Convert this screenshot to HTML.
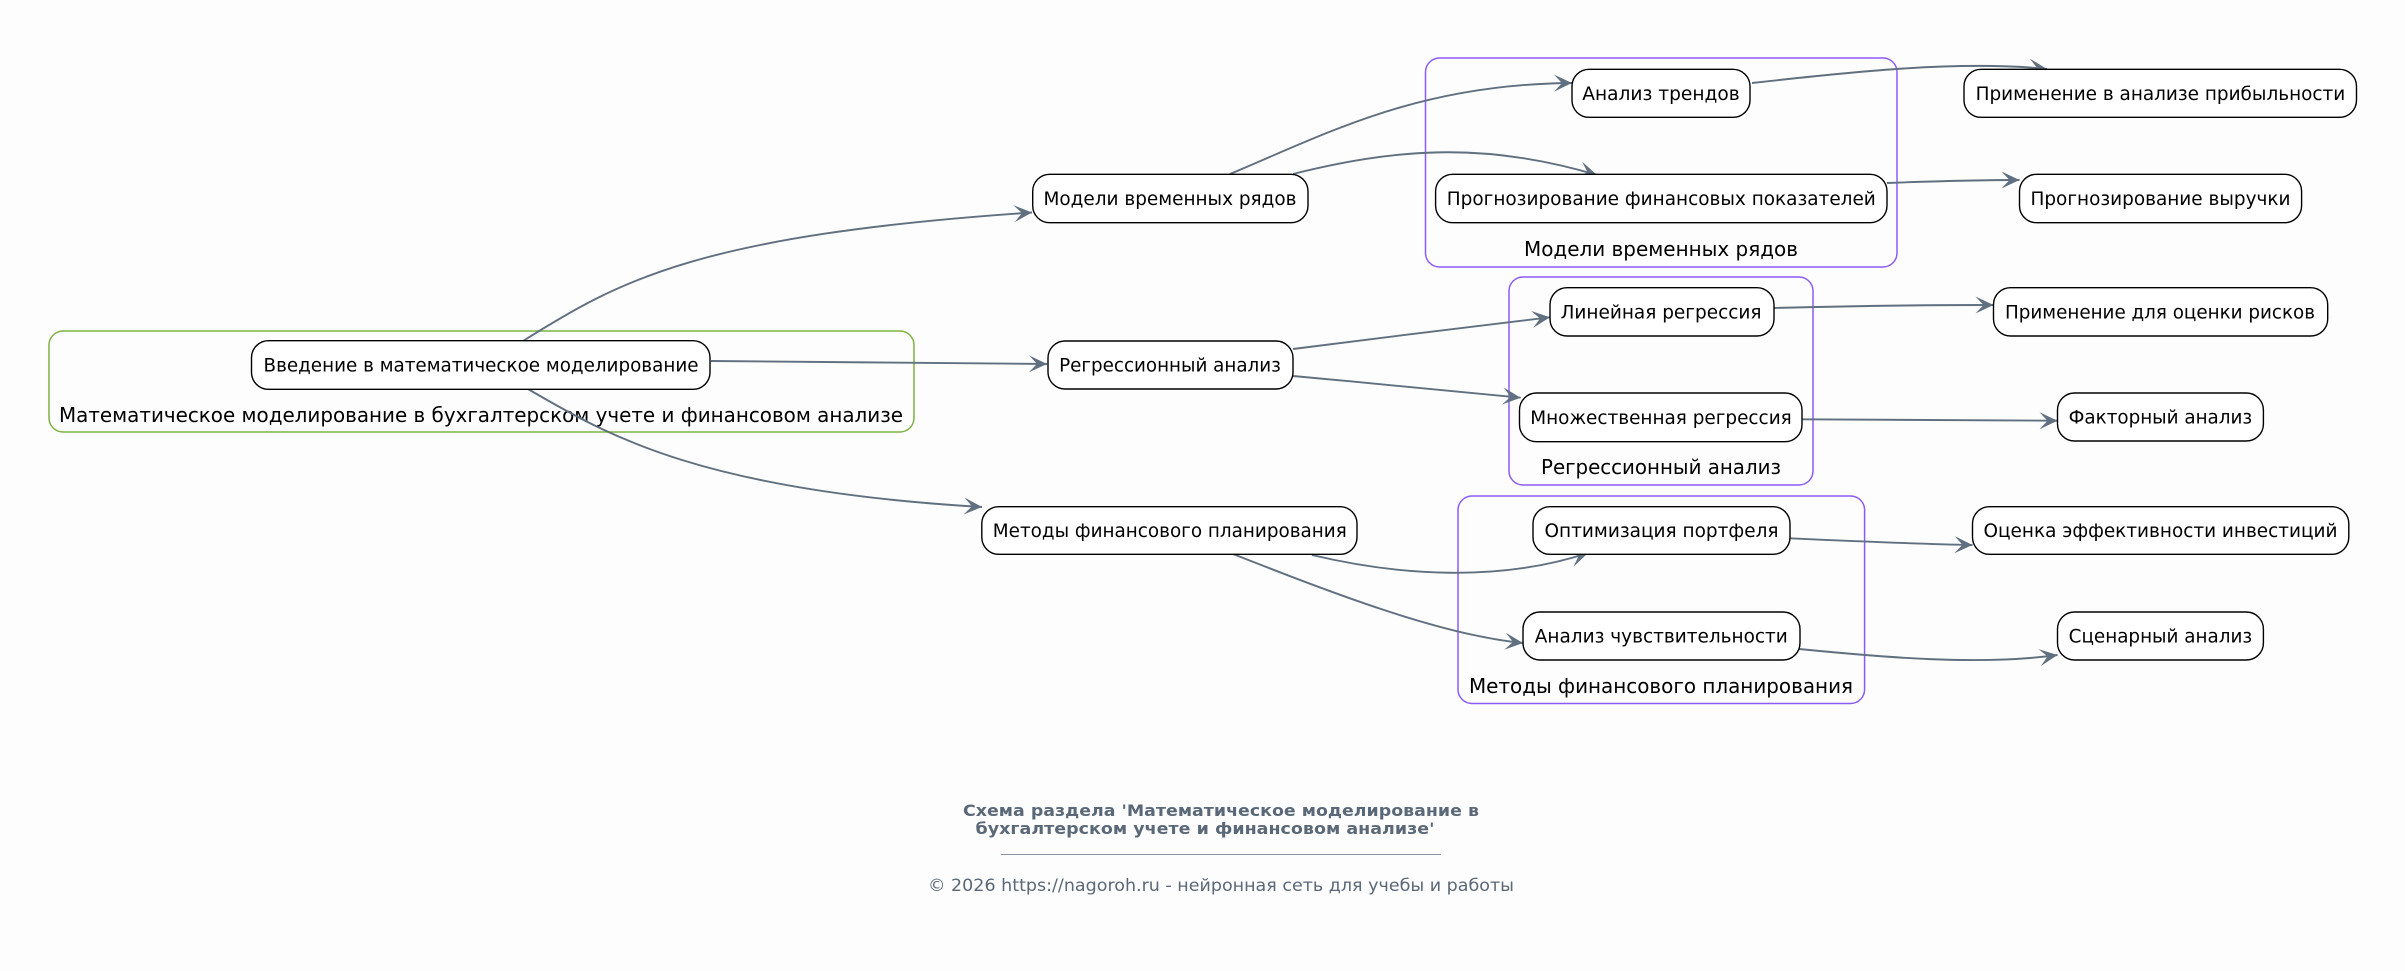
<!DOCTYPE html>
<html>
<head>
<meta charset="utf-8">
<style>
  html, body { margin: 0; padding: 0; background: #fdfdfd; }
  svg { display: block; }
  .n { fill: #ffffff; stroke: #000000; stroke-width: 1.4; }
  .t { font-family: "DejaVu Sans", "Liberation Sans", sans-serif; font-size: 18.67px; fill: #000; }
  .ct { font-family: "DejaVu Sans", "Liberation Sans", sans-serif; font-size: 20px; fill: #000; }
  .e { fill: none; stroke: #607080; stroke-width: 1.9; }
  .cl { fill: none; stroke: #8b5cf6; stroke-width: 1.5; }
  .ft { font-family: "DejaVu Sans", "Liberation Sans", sans-serif; fill: #5a6878; }
</style>
</head>
<body>
<svg width="2405" height="971" viewBox="0 0 2405 971" xmlns="http://www.w3.org/2000/svg">
  <defs>
    <marker id="ar" markerUnits="userSpaceOnUse" markerWidth="20" markerHeight="18" viewBox="0 0 20 18" refX="18" refY="9" orient="auto">
      <path d="M0,0.5 L18,9 L0,17.5 L8,9 Z" fill="#607080"/>
    </marker>
  </defs>

  <!-- Clusters -->
  <rect x="49" y="331" width="865" height="101" rx="14" ry="14" fill="none" stroke="#7cb342" stroke-width="1.5"/>
  <text class="ct" x="481" y="422" text-anchor="middle" textLength="844" lengthAdjust="spacingAndGlyphs">Математическое моделирование в бухгалтерском учете и финансовом анализе</text>

  <rect class="cl" x="1425.5" y="58" width="471.5" height="209" rx="14" ry="14"/>
  <text class="ct" x="1661" y="256" text-anchor="middle" textLength="274" lengthAdjust="spacingAndGlyphs">Модели временных рядов</text>

  <rect class="cl" x="1509" y="277" width="304" height="208" rx="14" ry="14"/>
  <text class="ct" x="1661" y="474" text-anchor="middle" textLength="240" lengthAdjust="spacingAndGlyphs">Регрессионный анализ</text>

  <rect class="cl" x="1458" y="496" width="406.6" height="207.5" rx="14" ry="14"/>
  <text class="ct" x="1661" y="693" text-anchor="middle" textLength="384" lengthAdjust="spacingAndGlyphs">Методы финансового планирования</text>

  <!-- Edges -->
  <path class="e" marker-end="url(#ar)" d="M523,341 C620,280 700,235 1032,212.5"/>
  <path class="e" marker-end="url(#ar)" d="M711,361 C820,362 940,363 1047,364"/>
  <path class="e" marker-end="url(#ar)" d="M527,388.5 C600,430 690,490 982,507"/>

  <path class="e" marker-end="url(#ar)" d="M1230,174 C1330,132 1420,84 1572,83"/>
  <path class="e" marker-end="url(#ar)" d="M1293,174 C1390,150 1480,140 1597,175"/>

  <path class="e" marker-end="url(#ar)" d="M1293,349 C1380,338 1460,328 1550,317.3"/>
  <path class="e" marker-end="url(#ar)" d="M1293,376 C1370,383 1450,391 1520.7,397.7"/>

  <path class="e" marker-end="url(#ar)" d="M1312,555 C1400,576 1500,582 1588,553"/>
  <path class="e" marker-end="url(#ar)" d="M1233,554 C1330,592 1440,635 1523,643"/>

  <path class="e" marker-end="url(#ar)" d="M1752,83 C1850,72 1960,60 2047,69"/>
  <path class="e" marker-end="url(#ar)" d="M1887,183 C1940,181 1980,180 2019.5,180"/>
  <path class="e" marker-end="url(#ar)" d="M1773,308 C1850,306 1920,305 1993.5,305"/>
  <path class="e" marker-end="url(#ar)" d="M1802,419.3 C1900,420 1980,421 2057.5,420.7"/>
  <path class="e" marker-end="url(#ar)" d="M1790,538.3 C1850,541 1920,544 1972.5,545"/>
  <path class="e" marker-end="url(#ar)" d="M1799,649 C1880,657 1980,666 2057.5,655"/>

  <!-- Nodes -->
  <rect class="n" x="251.5" y="340.7" width="458.5" height="48.6" rx="17" ry="17"/>
  <text class="t" x="481" y="371.5" text-anchor="middle" textLength="435" lengthAdjust="spacingAndGlyphs">Введение в математическое моделирование</text>

  <rect class="n" x="1032.7" y="174.3" width="275.3" height="48.4" rx="17" ry="17"/>
  <text class="t" x="1170" y="205" text-anchor="middle" textLength="253" lengthAdjust="spacingAndGlyphs">Модели временных рядов</text>

  <rect class="n" x="1048" y="341" width="245" height="48" rx="17" ry="17"/>
  <text class="t" x="1170" y="371.5" text-anchor="middle" textLength="221.7" lengthAdjust="spacingAndGlyphs">Регрессионный анализ</text>

  <rect class="n" x="981.8" y="506.7" width="375.2" height="47.6" rx="17" ry="17"/>
  <text class="t" x="1169.8" y="537" text-anchor="middle" textLength="354" lengthAdjust="spacingAndGlyphs">Методы финансового планирования</text>

  <rect class="n" x="1572" y="69.3" width="178" height="48" rx="17" ry="17"/>
  <text class="t" x="1661" y="99.8" text-anchor="middle" textLength="157.4" lengthAdjust="spacingAndGlyphs">Анализ трендов</text>

  <rect class="n" x="1435.6" y="174.3" width="451.4" height="48.4" rx="17" ry="17"/>
  <text class="t" x="1661.3" y="205" text-anchor="middle" textLength="429" lengthAdjust="spacingAndGlyphs">Прогнозирование финансовых показателей</text>

  <rect class="n" x="1550" y="287.7" width="224" height="48.3" rx="17" ry="17"/>
  <text class="t" x="1661" y="318.5" text-anchor="middle" textLength="201" lengthAdjust="spacingAndGlyphs">Линейная регрессия</text>

  <rect class="n" x="1519.5" y="393" width="282.5" height="48.7" rx="17" ry="17"/>
  <text class="t" x="1661" y="423.8" text-anchor="middle" textLength="261.5" lengthAdjust="spacingAndGlyphs">Множественная регрессия</text>

  <rect class="n" x="1533" y="506.7" width="257" height="47.6" rx="17" ry="17"/>
  <text class="t" x="1661.5" y="537" text-anchor="middle" textLength="234" lengthAdjust="spacingAndGlyphs">Оптимизация портфеля</text>

  <rect class="n" x="1523" y="612" width="277" height="48" rx="17" ry="17"/>
  <text class="t" x="1661.3" y="642.5" text-anchor="middle" textLength="253" lengthAdjust="spacingAndGlyphs">Анализ чувствительности</text>

  <rect class="n" x="1964" y="69.3" width="392.5" height="48" rx="17" ry="17"/>
  <text class="t" x="2160.4" y="99.8" text-anchor="middle" textLength="369.6" lengthAdjust="spacingAndGlyphs">Применение в анализе прибыльности</text>

  <rect class="n" x="2019.5" y="174.3" width="282.1" height="48.4" rx="17" ry="17"/>
  <text class="t" x="2160.5" y="205" text-anchor="middle" textLength="260" lengthAdjust="spacingAndGlyphs">Прогнозирование выручки</text>

  <rect class="n" x="1993.5" y="287.7" width="334.2" height="48.3" rx="17" ry="17"/>
  <text class="t" x="2160" y="318.5" text-anchor="middle" textLength="310" lengthAdjust="spacingAndGlyphs">Применение для оценки рисков</text>

  <rect class="n" x="2057.5" y="393" width="205.9" height="48" rx="17" ry="17"/>
  <text class="t" x="2160.4" y="423.5" text-anchor="middle" textLength="183.5" lengthAdjust="spacingAndGlyphs">Факторный анализ</text>

  <rect class="n" x="1972.5" y="506.7" width="376.3" height="47.6" rx="17" ry="17"/>
  <text class="t" x="2160.5" y="537" text-anchor="middle" textLength="354" lengthAdjust="spacingAndGlyphs">Оценка эффективности инвестиций</text>

  <rect class="n" x="2057.5" y="612" width="205.9" height="48" rx="17" ry="17"/>
  <text class="t" x="2160.4" y="642.5" text-anchor="middle" textLength="183.5" lengthAdjust="spacingAndGlyphs">Сценарный анализ</text>

  <!-- Footer -->
  <text class="ft" x="963" y="816" font-size="16" font-weight="bold" textLength="516" lengthAdjust="spacingAndGlyphs">Схема раздела 'Математическое моделирование в</text>
  <text class="ft" x="975.5" y="834" font-size="16" font-weight="bold" textLength="459" lengthAdjust="spacingAndGlyphs">бухгалтерском учете и финансовом анализе'</text>
  <line x1="1001" y1="854.5" x2="1441" y2="854.5" stroke="#8a95a3" stroke-width="1"/>
  <text class="ft" x="928" y="891" font-size="16.5" textLength="586" lengthAdjust="spacingAndGlyphs">© 2026 https://nagoroh.ru - нейронная сеть для учебы и работы</text>
</svg>
</body>
</html>
